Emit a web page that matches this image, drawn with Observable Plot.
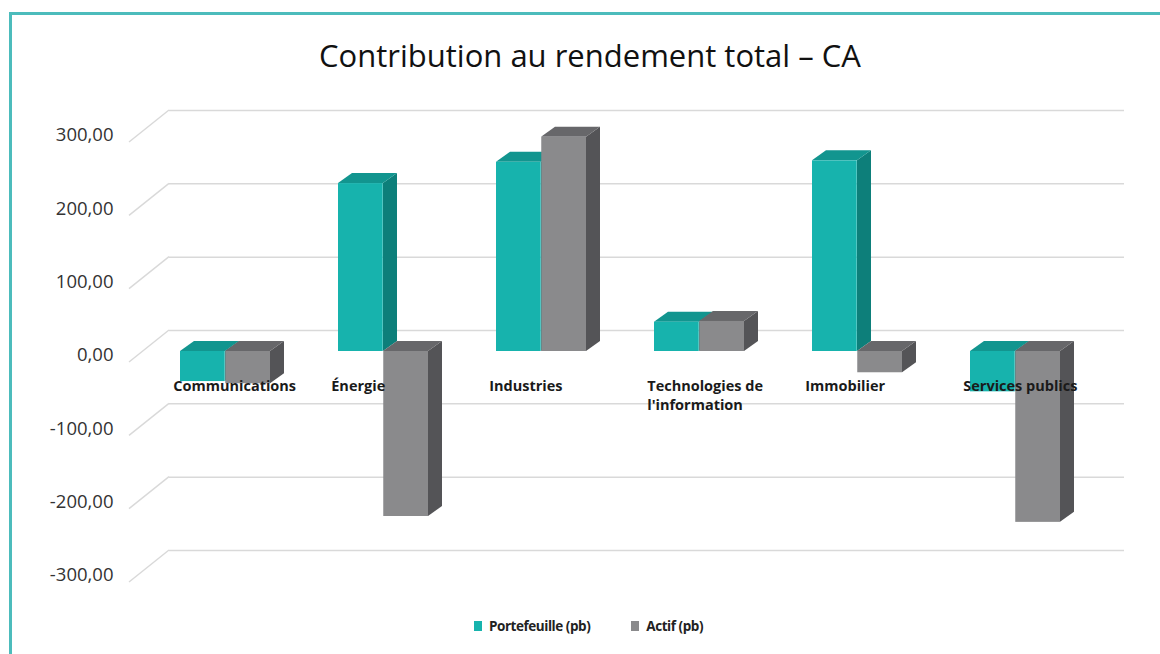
<!DOCTYPE html>
<html>
<head>
<meta charset="utf-8">
<script src="https://cdn.jsdelivr.net/npm/d3@7"></script>
<script src="https://cdn.jsdelivr.net/npm/@observablehq/plot@0.6"></script>
<style>
  html, body { margin: 0; padding: 0; background: #fff; }
  body { width: 1160px; height: 654px; overflow: hidden; position: relative; font-family: "Open Sans", sans-serif; }
  #frame { position: absolute; left: 9px; top: 12px; width: 1200px; height: 700px; border: 3px solid #4cbcbc; box-sizing: border-box; }
  #title { position: absolute; top: 34px; left: 0; width: 1180px; text-align: center; font-size: 31px; color: #111; }
  #chart { position: absolute; top: 90px; left: 0; }
  #legend { position: absolute; top: 617px; left: 0; width: 1177px; display: flex; justify-content: center; align-items: center; font-size: 13.5px; font-weight: 700; color: #222; letter-spacing: -0.45px; }
  #legend span.sw { display: inline-block; width: 8px; height: 10px; margin-right: 7px; }
  #legend span.item { display: inline-flex; align-items: center; margin-right: 41px; }
  #legend span.item:last-child { margin-right: 0; }
</style>
</head>
<body>
<div id="frame"></div>
<div id="title">Contribution au rendement total – CA</div>
<div id="chart"></div>
<div id="legend">
  <span class="item"><span class="sw" style="background:#17b3ad"></span>Portefeuille (pb)</span>
  <span class="item"><span class="sw" style="background:#8a8a8c"></span>Actif (pb)</span>
</div>
<script>
// ---- data ----
const categories = ["Communications", "Énergie", "Industries", "Technologies de l'information", "Immobilier", "Services publics"];
const categoryLabels = ["Communications", "Énergie", "Industries", "Technologies de\nl'information", "Immobilier", "Services publics"];
const portefeuille = [-41, 229, 258, 40, 260, -55];
const actif = [-44, -225, 292, 41, -29, -233];
const yTicks = [300, 200, 100, 0, -100, -200, -300];

// ---- styles ----
const tealFront = "#17b3ad", tealTop = "#12958f", tealSide = "#0d7f7a";
const greyFront = "#8a8a8c", greyTop = "#67676a", greySide = "#545457";
const DX = 14, DY = 10;               // bar depth
const GX = 26, GY = 21, FX = 14, FY = 11; // grid wall offsets
const W = 1160, H = 520, ML = 143, MR = 62, MT = 41, MB = 39;
const xOpts = {type: "band", domain: categories, range: [ML, W - MR], paddingInner: 0.43, paddingOuter: 0.222, align: 0.5};
const half = Plot.scale({x: xOpts}).bandwidth / 2;

const rows = categories.map((c, i) => ({category: c, portefeuille: portefeuille[i], actif: actif[i]}));
const fmt = d => d.toFixed(2).replace(".", ",");
const NS = "http://www.w3.org/2000/svg";
function poly(g, pts, fill) {
  const p = document.createElementNS(NS, "polygon");
  p.setAttribute("points", pts.map(q => q.join(",")).join(" "));
  p.setAttribute("fill", fill);
  g.appendChild(p);
}

// diagonal floor lines of the 3D wall
function diagonals(index, scales, values, dims) {
  const g = document.createElementNS(NS, "g");
  for (const t of yTicks) {
    const yy = scales.y(t);
    const l = document.createElementNS(NS, "line");
    l.setAttribute("x1", dims.marginLeft - FX); l.setAttribute("y1", yy + FY);
    l.setAttribute("x2", dims.marginLeft + GX); l.setAttribute("y2", yy - GY);
    l.setAttribute("stroke", "#d9d9d9"); l.setAttribute("stroke-width", 1.5);
    g.appendChild(l);
  }
  return g;
}

// top and side faces of the 3D bars
function faces(index, scales) {
  const g = document.createElementNS(NS, "g");
  const bw = scales.x.bandwidth() / 2;
  rows.forEach(r => {
    [[r.portefeuille, 0, tealTop, tealSide], [r.actif, 1, greyTop, greySide]].forEach(([v, k, top, side]) => {
      const x0 = scales.x(r.category) + k * bw, x1 = x0 + bw;
      const y0 = scales.y(0), yv = scales.y(v);
      const yt = Math.min(y0, yv), yb = Math.max(y0, yv);
      poly(g, [[x1, yt], [x1 + DX, yt - DY], [x1 + DX, yb - DY], [x1, yb]], side);
      poly(g, [[x0, yt], [x1, yt], [x1 + DX, yt - DY], [x0 + DX, yt - DY]], top);
    });
  });
  return g;
}

const chart = Plot.plot({
  width: W, height: H,
  marginLeft: ML, marginRight: MR, marginTop: MT, marginBottom: MB,
  style: {fontFamily: "'Open Sans', sans-serif", background: "transparent"},
  x: {...xOpts, axis: null},
  y: {domain: [-300, 300], axis: null},
  marks: [
    Plot.ruleY(yTicks, {dx: GX, dy: -GY, stroke: "#d9d9d9", strokeWidth: 1.5}),
    diagonals,
    faces,
    Plot.barY(rows, {x: "category", y: "portefeuille", fill: tealFront, insetRight: half, insetLeft: 0}),
    Plot.barY(rows, {x: "category", y: "actif", fill: greyFront, insetLeft: half, insetRight: 0}),
    Plot.text(categories, {x: d => d, y: () => 0, text: (d, i) => categoryLabels[i], textAnchor: "start", lineAnchor: "top", dx: -half - 7, dy: 26, lineHeight: 1.3, fontSize: 14.5, fontWeight: 700, fill: "#1a1a1a"}),
    Plot.axisY({ticks: yTicks, tickSize: 0, tickPadding: 30, dy: 4, tickFormat: fmt, fontSize: 18.5, fill: "#333", label: null})
  ]
});
document.getElementById("chart").appendChild(chart);
</script>
</body>
</html>
